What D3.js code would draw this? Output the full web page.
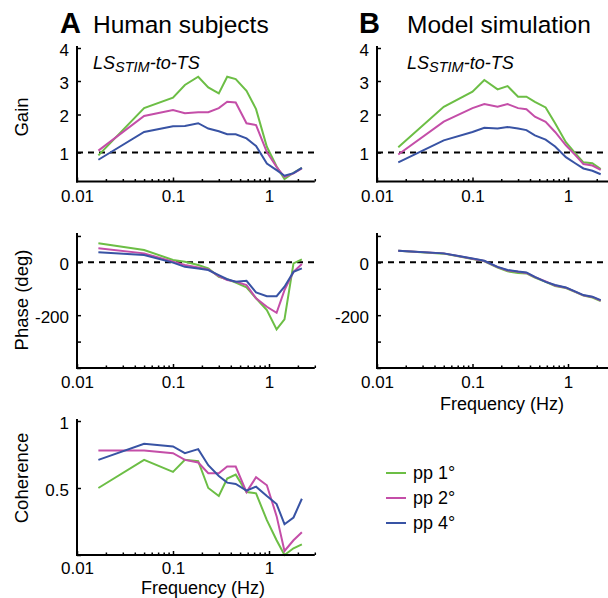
<!DOCTYPE html>
<html><head><meta charset="utf-8">
<script src="https://cdn.jsdelivr.net/npm/d3@7"></script>
<style>
body{margin:0;background:#fff}
svg{display:block}
text{font-family:"Liberation Sans",Arial,Helvetica,sans-serif;fill:#000}
</style>
</head><body>
<svg id="c" width="608" height="598"></svg>
<script>
// ---------- data ----------
const freqs = [0.0167, 0.05, 0.1, 0.133, 0.183, 0.233, 0.3, 0.367, 0.45, 0.583, 0.733, 0.95, 1.2, 1.45, 1.8, 2.2];
const seriesNames = ["pp 1°", "pp 2°", "pp 4°"];
const seriesColors = ["#6cbe45", "#c44ea8", "#3853a4"];

// Human subjects
const gainHuman1 = [0.9, 2.19, 2.5, 2.88, 3.13, 2.81, 2.63, 3.13, 3.06, 2.71, 2.16, 1.15, 0.52, 0.08, 0.3, 0.47];
const gainHuman2 = [1.05, 1.96, 2.13, 2.04, 2.07, 2.07, 2.19, 2.38, 2.36, 1.77, 1.72, 1.01, 0.5, 0.16, 0.28, 0.45];
const gainHuman4 = [0.75, 1.54, 1.69, 1.7, 1.77, 1.63, 1.56, 1.48, 1.48, 1.37, 1.17, 0.62, 0.39, 0.2, 0.29, 0.47];

const phaseHuman1 = [72, 47, 9, 2, -10, -23, -55, -64, -77, -95, -136, -181, -254, -216, -4, 11];
const phaseHuman2 = [53, 34, 2, -10, -19, -27, -52, -67, -73, -86, -136, -168, -191, -105, -36, -6];
const phaseHuman4 = [38, 28, -1, -17, -23, -29, -48, -64, -73, -70, -114, -128, -128, -92, -36, -23];

const cohHuman1 = [0.5, 0.71, 0.62, 0.71, 0.7, 0.5, 0.44, 0.57, 0.6, 0.47, 0.46, 0.26, 0.11, 0.0, 0.05, 0.08];
const cohHuman2 = [0.78, 0.78, 0.76, 0.71, 0.69, 0.61, 0.61, 0.66, 0.66, 0.47, 0.58, 0.52, 0.29, 0.03, 0.11, 0.17];
const cohHuman4 = [0.71, 0.83, 0.81, 0.76, 0.79, 0.67, 0.59, 0.54, 0.53, 0.48, 0.51, 0.44, 0.38, 0.23, 0.28, 0.42];

// Model simulation
const gainModel1 = [1.14, 2.23, 2.68, 3.03, 2.75, 2.85, 2.53, 2.53, 2.38, 2.21, 1.77, 1.27, 0.96, 0.66, 0.63, 0.43];
const gainModel2 = [0.93, 1.81, 2.19, 2.31, 2.23, 2.31, 2.19, 2.16, 1.94, 1.81, 1.54, 1.19, 0.9, 0.6, 0.55, 0.4];
const gainModel4 = [0.66, 1.32, 1.54, 1.65, 1.63, 1.67, 1.63, 1.59, 1.45, 1.34, 1.16, 0.84, 0.62, 0.45, 0.37, 0.25];

const phaseModel1 = [44, 33, 13, 4, -20, -34, -40, -42, -58, -74, -90, -97, -113, -126, -133, -147];
const phaseModel2 = [44, 34, 14, 5, -18, -31, -36, -40, -56, -72, -88, -96, -112, -125, -131, -145];
const phaseModel4 = [44, 34, 15, 6, -17, -29, -35, -38, -55, -74, -86, -95, -111, -124, -130, -143];

// ticks
const xMajorTicks = [0.01, 0.1, 1];
const xMinorTicks = [0.02,0.03,0.04,0.05,0.06,0.07,0.08,0.09,0.2,0.3,0.4,0.5,0.6,0.7,0.8,0.9,2,3];
const gainTicks = [1, 2, 3, 4];
const phaseTicks = [100, 0, -100, -200, -300, -400];
const phaseLabels = [0, -200];
const cohTicks = [0, 0.5, 1];
const cohLabels = [0.5, 1];

// ---------- drawing ----------
const svg = d3.select("#c");
svg.append("rect").attr("width",608).attr("height",598).attr("fill","#fff");

const fmtX = d => d === 0.01 ? "0.01" : d === 0.1 ? "0.1" : "1";

function drawPanel(cfg) {
  const g = svg.append("g");
  const x = d3.scaleLog().domain([0.01, 3]).range(cfg.xr);
  const y = cfg.y;

  if (cfg.refLine !== undefined) {
    g.append("line")
      .attr("x1", x(0.01)).attr("x2", x(3))
      .attr("y1", y(cfg.refLine)).attr("y2", y(cfg.refLine))
      .attr("stroke", "#000").attr("stroke-width", 2)
      .attr("stroke-dasharray", "6,5");
  }

  const line = d3.line().x(d => x(d[0])).y(d => y(d[1]));
  cfg.series.forEach((vals, i) => {
    g.append("path")
      .datum(freqs.map((f, k) => [f, vals[k]]))
      .attr("d", line)
      .attr("fill", "none")
      .attr("stroke", seriesColors[i])
      .attr("stroke-width", 2)
      .attr("stroke-linejoin", "miter");
  });

  const xAxis = d3.axisBottom(x).tickValues(xMajorTicks).tickFormat(fmtX)
    .tickSize(-4).tickSizeOuter(0).tickPadding(cfg.xPad || 8);
  const gx = g.append("g").attr("transform", `translate(0,${cfg.yBottom})`).call(xAxis);
  const xMinor = d3.axisBottom(x).tickValues(xMinorTicks).tickFormat("").tickSize(-2.5).tickSizeOuter(0);
  const gxm = g.append("g").attr("transform", `translate(0,${cfg.yBottom})`).call(xMinor);
  gxm.select(".domain").remove();
  gx.select(".domain").remove();
  [gx, gxm].forEach(a => a.selectAll(".tick line").attr("stroke", "#000").attr("stroke-width", 1.5));
  gx.selectAll(".tick text").attr("font-size", "17px").attr("fill", "#000");

  const yAxis = d3.axisLeft(y).tickValues(cfg.yTicks)
    .tickFormat(d => cfg.yLabels.includes(d) ? String(d) : "")
    .tickSize(-4).tickSizeOuter(0).tickPadding(8);
  const gy = g.append("g").attr("transform", `translate(${x(0.01)},0)`).call(yAxis);
  gy.select(".domain").remove();
  gy.selectAll(".tick line").attr("stroke", "#000").attr("stroke-width", 1.5);
  gy.selectAll(".tick text").attr("font-size", "17px").attr("dy", "0.42em").attr("fill", "#000");

  g.append("line").attr("x1", x(0.01)).attr("x2", x(0.01))
    .attr("y1", cfg.yTop).attr("y2", cfg.yBottom + 1)
    .attr("stroke", "#000").attr("stroke-width", 2);
  g.append("line").attr("x1", x(0.01) - 1).attr("x2", x(3))
    .attr("y1", cfg.yBottom).attr("y2", cfg.yBottom)
    .attr("stroke", "#000").attr("stroke-width", 2);
  return g;
}

const yGainL = d3.scaleLinear().domain([0, 1, 2, 3, 4]).range([181.5, 152.5, 114.5, 81, 48]);
const yPhase = d3.scaleLinear().domain([-400, 110]).range([368, 233.3]);
const yCoh = d3.scaleLinear().domain([0, 1]).range([555, 421]);

const leftX = [77, 77 + 96 * Math.log10(300)];
const rightX = [377, 377 + 95.5 * Math.log10(300)];

drawPanel({xr: leftX, y: yGainL, yTop: 46, yBottom: 181.5, refLine: 1,
  yTicks: gainTicks, yLabels: gainTicks, series: [gainHuman1, gainHuman2, gainHuman4]});
drawPanel({xr: rightX, y: yGainL, yTop: 46, yBottom: 181.5, refLine: 1,
  yTicks: gainTicks, yLabels: gainTicks, series: [gainModel1, gainModel2, gainModel4]});
drawPanel({xr: leftX, y: yPhase, yTop: 233, yBottom: 368, refLine: 0,
  yTicks: phaseTicks, yLabels: phaseLabels, series: [phaseHuman1, phaseHuman2, phaseHuman4]});
drawPanel({xr: rightX, y: yPhase, yTop: 233, yBottom: 368, refLine: 0,
  yTicks: phaseTicks, yLabels: phaseLabels, series: [phaseModel1, phaseModel2, phaseModel4]});
drawPanel({xr: leftX, y: yCoh, yTop: 419, yBottom: 555, xPad: 6.5,
  yTicks: cohTicks, yLabels: cohLabels, series: [cohHuman1, cohHuman2, cohHuman4]});

function title(xL, letter, xT, txt) {
  svg.append("text").attr("x", xL).attr("y", 33).attr("font-size", "29px")
    .attr("font-weight", "bold").text(letter);
  svg.append("text").attr("x", xT).attr("y", 33).attr("font-size", "24.5px").text(txt);
}
title(60, "A", 93, "Human subjects");
title(359, "B", 407, "Model simulation");

function lsLabel(x0) {
  const t = svg.append("text").attr("x", x0).attr("y", 69)
    .attr("font-size", "18px").attr("font-style", "italic");
  t.append("tspan").text("LS");
  t.append("tspan").attr("font-size", "14.5px").attr("dy", 3).text("STIM");
  t.append("tspan").attr("dy", -3).text("-to-TS");
}
lsLabel(93);
lsLabel(407);

function yTitle(cy, txt) {
  svg.append("text").attr("transform", `translate(28,${cy}) rotate(-90)`)
    .attr("text-anchor", "middle").attr("font-size", "18.5px").text(txt);
}
yTitle(117, "Gain");
yTitle(300, "Phase (deg)");
yTitle(478, "Coherence");

function xTitle(cx, cy) {
  svg.append("text").attr("x", cx).attr("y", cy).attr("text-anchor", "middle")
    .attr("font-size", "18px").text("Frequency (Hz)");
}
xTitle(203, 594);
xTitle(502, 410);

const leg = svg.append("g");
seriesNames.forEach((n, i) => {
  const yy = 473 + i * 25;
  leg.append("line").attr("x1", 386).attr("x2", 406).attr("y1", yy).attr("y2", yy)
    .attr("stroke", seriesColors[i]).attr("stroke-width", 2);
  leg.append("text").attr("x", 413).attr("y", yy + 6).attr("font-size", "18px").text(n);
});
</script>
</body></html>
